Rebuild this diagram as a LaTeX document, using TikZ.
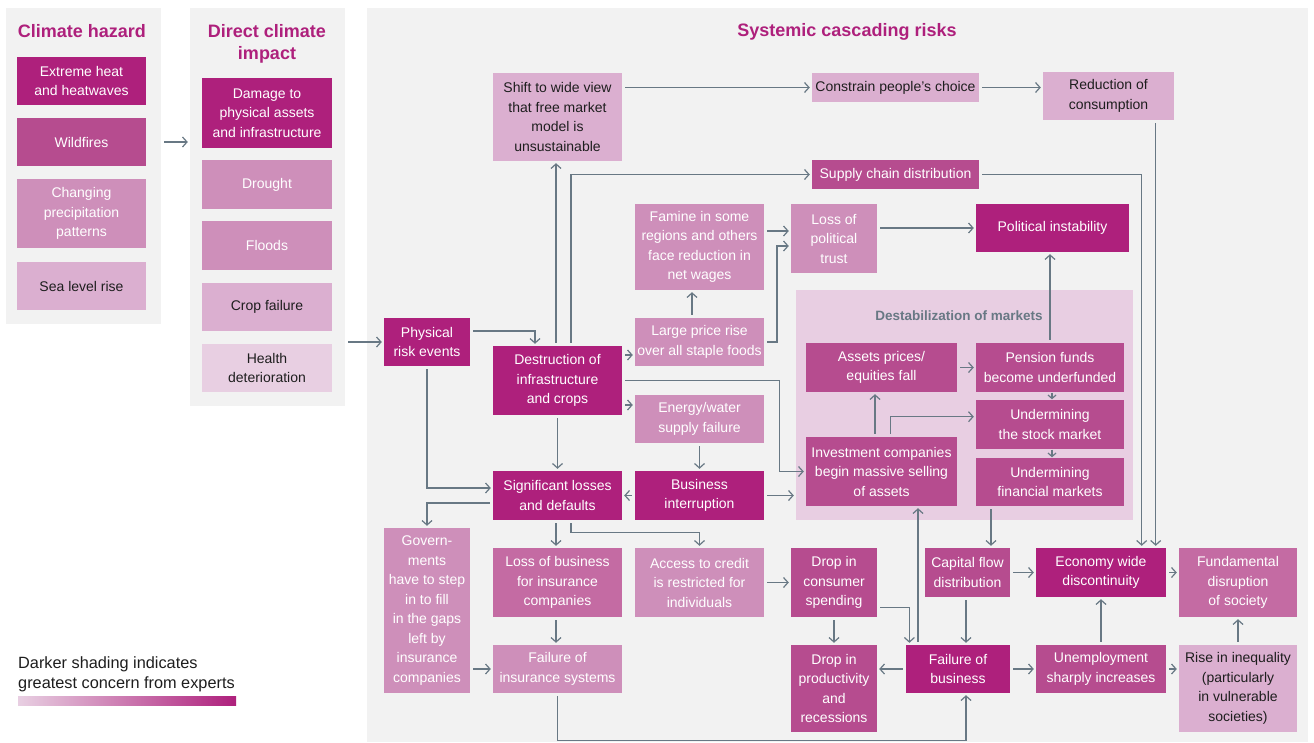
\documentclass[tikz,border=0pt]{standalone}
\usepackage{fontspec}
\setmainfont{Liberation Sans}
\usetikzlibrary{arrows.meta}
\definecolor{c1}{RGB}{174,32,124}
\definecolor{c2}{RGB}{182,76,143}
\definecolor{c3}{RGB}{196,107,163}
\definecolor{c4}{RGB}{206,143,186}
\definecolor{c5}{RGB}{219,175,208}
\definecolor{c6}{RGB}{232,207,226}
\definecolor{mkt}{RGB}{232,206,226}
\definecolor{pnl}{RGB}{242,242,242}
\definecolor{arrc}{RGB}{104,120,132}
\definecolor{txtd}{RGB}{30,30,30}
\newcommand\bxfont{\fontsize{14}{19.5}\selectfont}
\begin{document}
\begin{tikzpicture}[x=1pt,y=-1pt,
  sz/.style 2 args={minimum width=#1pt,minimum height=#2pt},
  panel/.style={fill=pnl,draw=none,inner sep=0pt},
  bx/.style={inner sep=0pt,align=center,font=\bxfont},
  k1/.style={bx,fill=c1,text=white},
  k2/.style={bx,fill=c2,text=white},
  k3/.style={bx,fill=c3,text=white},
  k4/.style={bx,fill=c4,text=white},
  l5/.style={bx,fill=c5,text=txtd},
  l6/.style={bx,fill=c6,text=txtd},
  ttl/.style={align=center,text=c1,font=\fontsize{18}{22}\selectfont\bfseries},
  arr/.style={draw=arrc,line width=1.2pt,-{Straight Barb[length=4.5pt,width=10pt]},shorten <=3pt,shorten >=2pt},
  sarr/.style={draw=arrc,line width=1.2pt,-{Straight Barb[length=3.5pt,width=8pt]},shorten <=0.5pt,shorten >=0.5pt}]
\useasboundingbox (0,0) rectangle (1314,742);
\fill[white] (0,0) rectangle (1314,742);
% panels
\node[panel,sz={155}{316}] (P1) at (83.5,166) {};
\node[panel,sz={155}{398}] (P2) at (267.5,207) {};
\node[panel,sz={941}{734}] (P3) at (837.5,375) {};
\node[ttl] (t1) at (82,31) {Climate hazard};
\node[ttl] (t2) at (267,43.5) {Direct climate\\impact};
\node[ttl] (t3) at (847,31.5) {Systemic cascading risks};
% panel 1
\node[k1,sz={129}{48}] (ext) at (81.5,81) {Extreme heat\\and heatwaves};
\node[k2,sz={129}{48}] (wild) at (81.5,142) {Wildfires};
\node[k4,sz={129}{69}] (chg) at (81.5,213.5) {Changing\\precipitation\\patterns};
\node[l5,sz={129}{48}] (sea) at (81.5,286) {Sea level rise};
% panel 2
\node[k1,sz={130}{70}] (dmg) at (267,113) {Damage to\\physical assets\\and infrastructure};
\node[k4,sz={130}{49}] (drought) at (267,184.5) {Drought};
\node[k4,sz={130}{49}] (floods) at (267,245.5) {Floods};
\node[l5,sz={130}{48}] (crop) at (267,307) {Crop failure};
\node[l6,sz={130}{48}] (health) at (267,368) {Health\\deterioration};
% markets group
\node[panel,fill=mkt,sz={337}{230}] (markets) at (964.5,405) {};
\node[font=\fontsize{13.5}{16}\selectfont\bfseries,text=arrc] (mtitle) at (959,316) {Destabilization of markets};
% panel 3
\node[k1,sz={86}{48}] (phys) at (427,342) {Physical\\risk events};
\node[l5,sz={129}{88}] (shift) at (557.5,117) {Shift to wide view\\that free market\\model is\\unsustainable};
\node[k1,sz={129}{69}] (destr) at (557.5,380.5) {Destruction of\\infrastructure\\and crops};
\node[k4,sz={129}{86}] (famine) at (699.5,247) {Famine in some\\regions and others\\face reduction in\\net wages};
\node[k4,sz={129}{48}] (price) at (699.5,342) {Large price rise\\over all staple foods};
\node[k4,sz={86}{69}] (trust) at (834,238.5) {Loss of\\political\\trust};
\node[l5,sz={167}{29}] (constrain) at (895.5,87.5) {Constrain people’s choice};
\node[l5,sz={131}{48}] (reduction) at (1108.5,96) {Reduction of\\consumption};
\node[k2,sz={167}{29}] (supply) at (895.5,174.5) {Supply chain distribution};
\node[k1,sz={153}{48}] (polit) at (1052.5,228) {Political instability};
\node[k2,sz={151}{49}] (assets) at (881.5,367.5) {Assets prices/\\equities fall};
\node[k2,sz={148}{49}] (pension) at (1050,367.5) {Pension funds\\become underfunded};
\node[k2,sz={148}{49}] (stock) at (1050,424.5) {Undermining\\the stock market};
\node[k2,sz={148}{48}] (finmkt) at (1050,482) {Undermining\\financial markets};
\node[k2,sz={151}{69}] (invest) at (881.5,471.5) {Investment companies\\begin massive selling\\of assets};
\node[k4,sz={129}{48}] (energy) at (699.5,419) {Energy/water\\supply failure};
\node[k1,sz={129}{49}] (signif) at (557.5,495.5) {Significant losses\\and defaults};
\node[k1,sz={129}{49}] (busint) at (699.5,495.5) {Business\\interruption};
\node[k4,sz={86}{165}] (gov) at (427,610.5) {Govern-\\ments\\have to step\\in to fill\\in the gaps\\left by\\insurance\\companies};
\node[k3,sz={129}{69}] (lossbus) at (557.5,582.5) {Loss of business\\for insurance\\companies};
\node[k4,sz={129}{69}] (credit) at (699.5,582.5) {Access to credit\\is restricted for\\individuals};
\node[k4,sz={129}{48}] (insur) at (557.5,669) {Failure of\\insurance systems};
\node[k2,sz={86}{69}] (consumer) at (834,582.5) {Drop in\\consumer\\spending};
\node[k2,sz={85}{49}] (capital) at (967.5,572.5) {Capital flow\\distribution};
\node[k1,sz={130}{49}] (economy) at (1101,572.5) {Economy wide\\discontinuity};
\node[k3,sz={118}{69}] (fundamental) at (1238,582.5) {Fundamental\\disruption\\of society};
\node[k2,sz={86}{87}] (product) at (834,688.5) {Drop in\\productivity\\and\\recessions};
\node[k1,sz={104}{48}] (failbus) at (958,669) {Failure of\\business};
\node[k2,sz={130}{48}] (unemp) at (1101,669) {Unemployment\\sharply increases};
\node[l5,sz={118}{87}] (rise) at (1238,688.5) {Rise in inequality\\(particularly\\in vulnerable\\societies)};
% legend
\node[anchor=west,align=left,text=txtd,font=\fontsize{16.3}{20}\selectfont,inner sep=0pt] (legend) at (18,674) {Darker shading indicates\\greatest concern from experts};
\shade[left color=c6,right color=c1] (18,696) rectangle (236,705);
% connectors
\draw[arr] (P1.east |- wild.east) -- (P2.west |- wild.east);
\draw[arr] (P2.east |- phys.west) -- (phys.west);
\draw[arr] (shift.east |- constrain.west) -- (constrain.west);
\draw[arr] (constrain.east) -- (reduction.west |- constrain.east);
\draw[arr] ([xshift=-1.5pt]destr.north) -- ([xshift=-1.5pt]shift.south);
\draw[arr] ([xshift=13.5pt]destr.north) |- (supply.west);
\draw[arr] ([yshift=11pt]phys.east) -| ([xshift=-22.5pt]destr.north);
\draw[arr] ([yshift=25.5pt]destr.east) -- ([yshift=-13pt]price.west);
\draw[arr] ([xshift=-7.5pt]price.north) -- ([xshift=-7.5pt]famine.south);
\draw[arr] ([yshift=16pt]famine.east) -- ([yshift=7.5pt]trust.west);
\draw[arr] (price.east) -| (777,246) -- ([yshift=-7.5pt]trust.west);
\draw[arr] ([yshift=10.5pt]trust.east) -- (polit.west);
\draw[arr] (supply.east) -| ([xshift=40.7pt]economy.north);
\draw[arr] ([xshift=47.2pt]reduction.south) -- ([xshift=54.7pt]economy.north);
\draw[arr] (pension.north) -- (pension.north |- polit.south);
\draw[arr] (assets.east) -- (pension.west);
\draw[sarr] ([xshift=2pt]pension.south) -- ([xshift=2pt]stock.north);
\draw[sarr] ([xshift=2pt]stock.south) -- ([xshift=2pt]finmkt.north);
\draw[arr] ([xshift=-6.5pt]invest.north) -- ([xshift=-6.5pt]assets.south);
\draw[arr] ([xshift=9.2pt]invest.north) |- ([yshift=7.8pt]stock.west);
\draw[arr] (destr.east) -| (779.6,471.5) -- (invest.west);
\draw[arr] ([yshift=-24.5pt]destr.east) -- ([yshift=14pt]energy.west);
\draw[arr] (destr.south) -- (signif.north);
\draw[arr] (energy.south) -- (busint.north);
\draw[arr] (busint.west) -- (signif.east);
\draw[arr] (busint.east) -- (markets.west |- busint.east);
\draw[arr] (phys.south) |- ([yshift=7.5pt]signif.west);
\draw[arr] ([yshift=-7.5pt]signif.west) -| (gov.north);
\draw[arr] ([xshift=-1.5pt]signif.south) -- ([xshift=-1.5pt]lossbus.north);
\draw[arr] ([xshift=13.5pt]signif.south) -- ++(0,12) -| (credit.north);
\draw[arr] (credit.east) -- (consumer.west);
\draw[arr] ([xshift=-1.5pt]lossbus.south) -- ([xshift=-1.5pt]insur.north);
\draw[arr] (gov.east |- insur.west) -- (insur.west);
\draw[arr] (insur.south) -- ++(0,47) -| ([xshift=8pt]failbus.south);
\draw[arr] ([yshift=-25.2pt]consumer.east) -| ([xshift=-48.6pt]failbus.north);
\draw[arr] ([xshift=-40pt]failbus.north) -- ([xshift=36.5pt]invest.south);
\draw[arr] (consumer.south) -- (product.north);
\draw[arr] ([xshift=-1.5pt]capital.south) -- ([xshift=8pt]failbus.north);
\draw[arr] (failbus.west) -- (product.east |- failbus.west);
\draw[arr] (failbus.east) -- (unemp.west);
\draw[arr] (unemp.north) -- (economy.south);
\draw[arr] (unemp.east) -- (rise.west |- unemp.east);
\draw[arr] (rise.north) -- (fundamental.south);
\draw[arr] (capital.east) -- (economy.west);
\draw[arr] (economy.east) -- (fundamental.west |- economy.east);
\draw[arr] ([xshift=-59pt]finmkt.south) -- ([xshift=23.5pt]capital.north);
\end{tikzpicture}
\end{document}
